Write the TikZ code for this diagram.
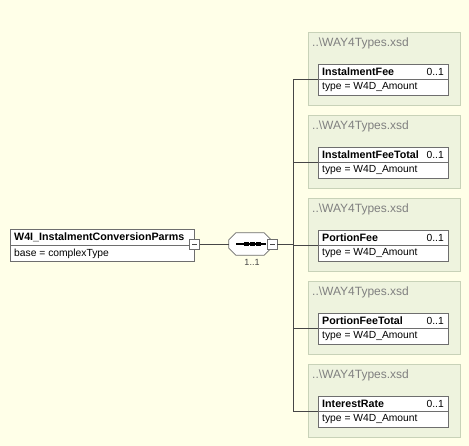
\documentclass[tikz,border=0pt]{standalone}
\usepackage{fontspec}
\setmainfont{Liberation Sans}
\definecolor{bgc}{RGB}{255,255,232}
\definecolor{grpfill}{RGB}{238,243,222}
\definecolor{grpline}{RGB}{200,210,184}
\definecolor{boxline}{RGB}{110,110,110}
\definecolor{linec}{RGB}{70,70,70}
\definecolor{titlec}{RGB}{128,128,128}
\newcommand{\regf}{\fontsize{10.3}{12}\selectfont}
\newcommand{\bldf}{\fontsize{10.7}{12}\selectfont\bfseries}
\tikzset{
  elbox/.style={draw=boxline, fill=white, line width=0.8pt, anchor=north west, inner sep=0pt},
  grpbox/.style={draw=grpline, fill=grpfill, line width=0.8pt, anchor=north west, inner sep=0pt, minimum width=152pt, minimum height=73pt},
  grptitle/.style={anchor=west, inner sep=0pt, text=titlec, font=\fontsize{12}{14}\selectfont},
  nametext/.style={anchor=west, inner sep=0pt, font=\bldf},
  typetext/.style={anchor=west, inner sep=0pt, font=\regf},
  occtext/.style={anchor=east, inner sep=0pt, font=\regf},
  togglebox/.style={draw=boxline, fill=white, line width=0.7pt, minimum width=10pt, minimum height=10pt, inner sep=0pt},
  conn/.style={draw=linec, line width=0.8pt},
}
\begin{document}
\begin{tikzpicture}[x=1pt,y=-1pt]
\useasboundingbox[fill=bgc] (0,0) rectangle (469,446);

% main element
\node[elbox, minimum width=184pt, minimum height=32pt] (main) at (10,229) {};
\draw[boxline, line width=0.8pt] (10,245) -- (194,245);
\node[nametext] (mainname) at (14,237.5) {W4I\_InstalmentConversionParms};
\node[typetext] (maintype) at (14,253.5) {base = complexType};

% sequence compositor
\node[minimum width=42pt, minimum height=22pt, inner sep=0pt] (seq) at (250,244) {};
\draw[draw=boxline, fill=white, line width=0.8pt]
  ([xshift=7pt]seq.north west) -- ([xshift=-7pt]seq.north east) -- ([yshift=-7pt]seq.north east)
  -- ([yshift=7pt]seq.south east) -- ([xshift=-7pt]seq.south east) -- ([xshift=7pt]seq.south west)
  -- ([yshift=7pt]seq.south west) -- ([yshift=-7pt]seq.north west) -- cycle;
\node[font=\fontsize{9}{10}\selectfont, text=linec, inner sep=0pt] (seqocc) at (252,262) {1..1};

\draw[conn] (main.east |- seq.west) -- (seq.west);
\node[togglebox] (mtog) at (194,244) {};
\draw[linec, line width=0.6pt] ([xshift=2.5pt]mtog.center) -- ([xshift=-2.5pt]mtog.center);

\draw[black, line width=1.2pt] (236,244) coordinate (dl) -- (266,244) coordinate (dr);
\foreach \x in {244,250,256} {\fill[black] (\x,242.3) rectangle ++(4.5,3.4);}

\node[togglebox] (stog) at (272,244) {};
\draw[linec, line width=0.6pt] ([xshift=2.5pt]stog.center) -- ([xshift=-2.5pt]stog.center);

% trunk
\coordinate (trtop) at (293,79.5);
\coordinate (trbot) at (293,411.5);
\draw[conn] (stog.east) -- (stog.east -| trtop);
\draw[conn] (trtop) -- (trbot);

% groups
\foreach \i/\nm [count=\k from 0] in {1/InstalmentFee, 2/InstalmentFeeTotal, 3/PortionFee, 4/PortionFeeTotal, 5/InterestRate} {
  \pgfmathsetmacro{\gy}{32+83*\k}
  \node[grpbox] (g\i) at (308,\gy) {};
  \node[grptitle] (gt\i) at (312,\gy+11.5) {..\textbackslash WAY4Types.xsd};
  \node[elbox, minimum width=130pt, minimum height=31pt] (e\i) at (318,\gy+32) {};
  \draw[boxline, line width=0.8pt] (318,\gy+47.5) -- (448,\gy+47.5);
  \node[nametext] (en\i) at (322,\gy+40) {\nm};
  \node[occtext] (eo\i) at (444,\gy+40) {0..1};
  \node[typetext] (et\i) at (322,\gy+55.5) {type = W4D\_Amount};
  \draw[conn] (e\i.west -| trtop) -- (e\i.west);
}
\end{tikzpicture}
\end{document}
